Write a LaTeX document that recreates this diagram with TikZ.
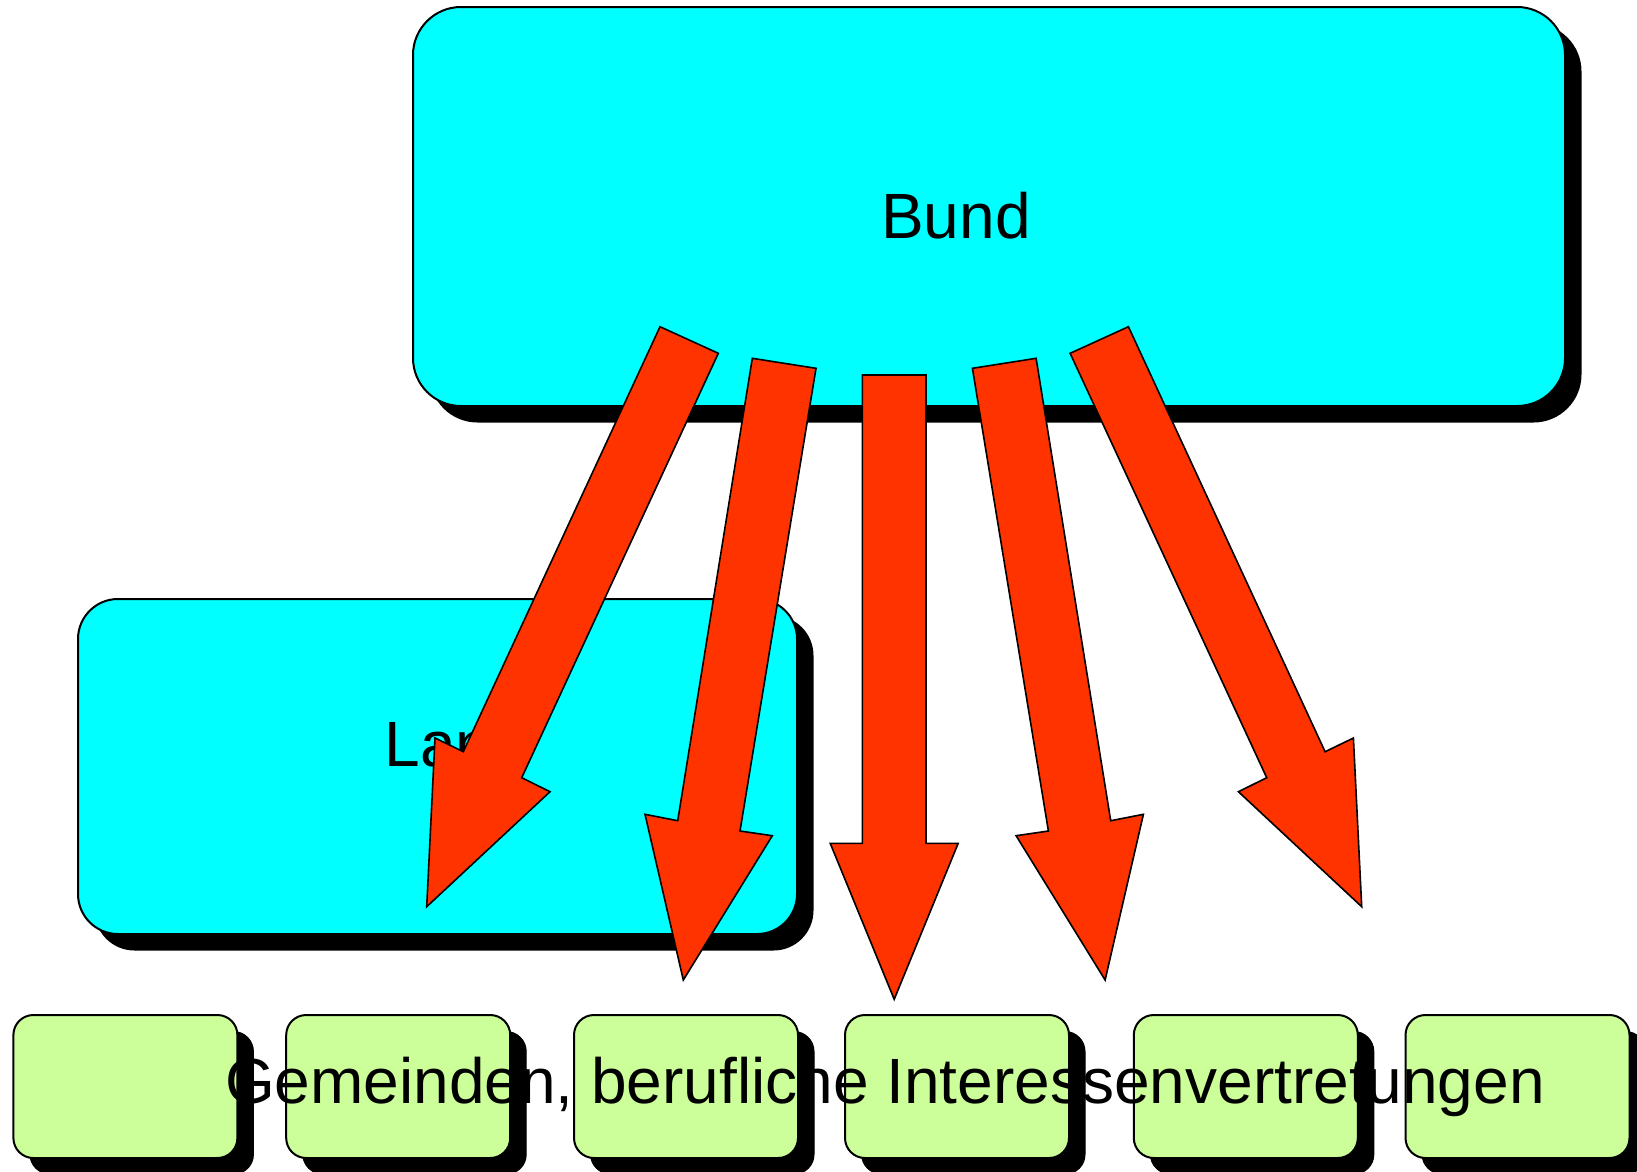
\documentclass[tikz,border=0pt]{standalone}
\usepackage{fontspec}
\setmainfont{Liberation Sans}
\usetikzlibrary{shadows}
\definecolor{boxcyan}{HTML}{00FFFF}
\definecolor{arrowred}{HTML}{FF3300}
\definecolor{boxgreen}{HTML}{CCFF99}
\tikzset{
  shadowbox/.style={draw=black, line width=2pt, rounded corners=#1, inner sep=0pt,
    drop shadow={shadow xshift=16.5pt, shadow yshift=-16.5pt, fill=black, opacity=1}},
  bigbox/.style={shadowbox=48pt, fill=boxcyan},
  landbox/.style={shadowbox=40pt, fill=boxcyan},
  smallbox/.style={shadowbox=20pt, fill=boxgreen, minimum width=224pt, minimum height=143pt,
    drop shadow={shadow xshift=16pt, shadow yshift=-16pt, fill=black, opacity=1}},
  label/.style={anchor=base, inner sep=0pt, font=\fontsize{64}{77}\selectfont},
  blockarrow/.style={fill=arrowred, draw=black, line width=1.6pt, line join=miter}
}
\begin{document}
\begin{tikzpicture}[x=1pt, y=-1pt]
\useasboundingbox (0,0) rectangle (1637,1171);
% main boxes
\node[bigbox, minimum width=1152pt, minimum height=399pt] (bund) at (989,206.5) {};
\node[label] (bundtext) at (956,238.3) {Bund};
\node[landbox, minimum width=719pt, minimum height=335pt] (land) at (437.5,766.5) {};
\node[label] (landtext) at (455.8,766.7) {Land};
% block arrows
\draw[blockarrow] (660,326.7) -- (718.3,353.3) -- (521.7,777.7) -- (550,791.7) -- (426.7,906.7) -- (435,738) -- (463.3,751.7) -- cycle;
\draw[blockarrow] (752.3,358.3) -- (816,368.3) -- (740,831) -- (772.3,835.7) -- (683.3,980) -- (645,814.3) -- (677.7,820.7) -- cycle;
\draw[blockarrow] (862.4,375) -- (926,375) -- (926,843.3) -- (958.2,843.3) -- (894.2,999.3) -- (830.2,843.3) -- (862.4,843.3) -- cycle;
\draw[blockarrow] (1036.1,358.3) -- (972.4,368.3) -- (1048.4,831) -- (1016.1,835.7) -- (1105.1,980) -- (1143.4,814.3) -- (1110.7,820.7) -- cycle;
\draw[blockarrow] (1128.4,326.7) -- (1070.1,353.3) -- (1266.7,777.7) -- (1238.4,791.7) -- (1361.7,906.7) -- (1353.4,738) -- (1325.1,751.7) -- cycle;
% bottom boxes
\node[smallbox] (b1) at (125.4,1086.5) {};
\node[smallbox] (b2) at (398.2,1086.5) {};
\node[smallbox] (b3) at (686,1086.5) {};
\node[smallbox] (b4) at (957,1086.5) {};
\node[smallbox] (b5) at (1245.8,1086.5) {};
\node[smallbox] (b6) at (1517.5,1086.5) {};
\node[label] (bottomtext) at (885,1103) {Gemeinden, berufliche Interessenvertretungen};
\end{tikzpicture}
\end{document}
